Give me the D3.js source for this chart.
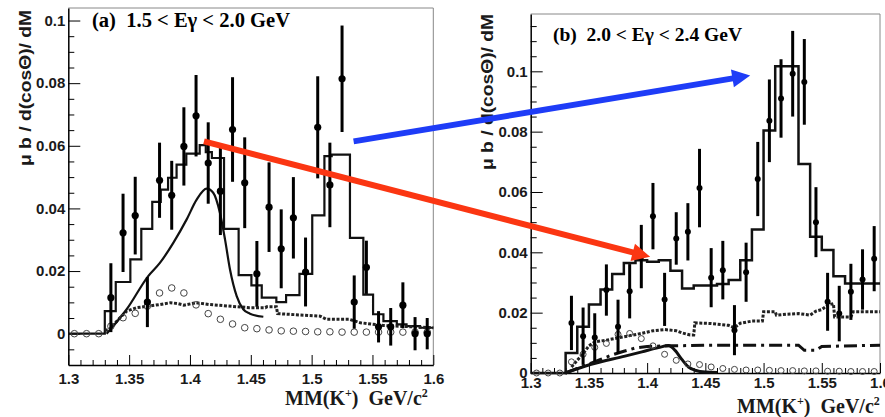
<!DOCTYPE html>
<meta charset="utf-8">
<style>
body { margin: 0; background: #fff; }
svg { display: block; }
.tick text { font-family: "Liberation Sans", Arial, sans-serif; font-weight: bold; font-size: 15px; fill: #1a1a1a; }
</style>
<body>
<script src="https://d3js.org/d3.v7.min.js"></script>
<script>

// bin centres of the missing-mass histograms (GeV/c^2)
var massBins = [1.305, 1.315, 1.325, 1.335, 1.345, 1.355, 1.365, 1.375, 1.385, 1.395,
                1.405, 1.415, 1.425, 1.435, 1.445, 1.455, 1.465, 1.475, 1.485, 1.495,
                1.505, 1.515, 1.525, 1.535, 1.545, 1.555, 1.565, 1.575, 1.585, 1.595];
var pointMass = [1.335, 1.345, 1.355, 1.365, 1.375, 1.385, 1.395, 1.405, 1.415, 1.425,
                 1.435, 1.445, 1.455, 1.465, 1.475, 1.485, 1.495, 1.505, 1.515, 1.525,
                 1.535, 1.545, 1.555, 1.565, 1.575, 1.585, 1.595];

// ticks
var xMajorTicks = [1.3, 1.35, 1.4, 1.45, 1.5, 1.55, 1.6];
var xMinorTicks = [1.31, 1.32, 1.33, 1.34, 1.36, 1.37, 1.38, 1.39, 1.41, 1.42, 1.43, 1.44,
                   1.46, 1.47, 1.48, 1.49, 1.51, 1.52, 1.53, 1.54, 1.56, 1.57, 1.58, 1.59];
var yMajorTicks = [0, 0.02, 0.04, 0.06, 0.08, 0.1];
var yMinorTicksA = [-0.005, 0.005, 0.01, 0.015, 0.025, 0.03, 0.035, 0.045, 0.05, 0.055,
                    0.065, 0.07, 0.075, 0.085, 0.09, 0.095];
var yMinorTicksB = [0.005, 0.01, 0.015, 0.025, 0.03, 0.035, 0.045, 0.05, 0.055,
                    0.065, 0.07, 0.075, 0.085, 0.09, 0.095, 0.105, 0.11, 0.115];

// ---- panel (a) 1.5 < Eg < 2.0 GeV ----
var dataA = [0.0115, 0.0322, 0.0377, 0.0101, 0.049, 0.0442, 0.0598, 0.0696, 0.0545, 0.0455,
             0.0652, 0.0482, 0.0191, 0.0404, 0.0271, 0.037, 0.0197, 0.0659, 0.0475, 0.0814,
             0.0101, 0.0212, 0.0022, 0.0022, 0.0091, 0.0, 0.0];
var errA = [0.011, 0.0125, 0.0124, 0.008, 0.012, 0.011, 0.0125, 0.013, 0.013, 0.014,
            0.0167, 0.0145, 0.0105, 0.0143, 0.0126, 0.013, 0.011, 0.0163, 0.0135, 0.017,
            0.0085, 0.0085, 0.005, 0.006, 0.0073, 0.0053, 0.005];
var openA = [0, 0, 0, 0.0024, 0.0051, 0.0065, 0.0088, 0.013, 0.0146, 0.013,
             0.0092, 0.0064, 0.0046, 0.0031, 0.0019, 0.0016, 0.0012, 0.0009, 0.0008, 0.0007,
             0.0006, 0.0006, 0.0005, 0.0005, 0.0005, 0.0005, 0.0005, 0.0005, 0.0005, 0.0005];
var histEdgesA = [1.300, 1.330, 1.339, 1.351, 1.360, 1.369, 1.376, 1.382, 1.389, 1.397, 1.408,
                  1.413, 1.418, 1.428, 1.440, 1.4505, 1.459, 1.471, 1.479, 1.490, 1.5005,
                  1.5105, 1.5165, 1.5315, 1.5425, 1.5505, 1.559, 1.570, 1.578, 1.589, 1.600];
var histValsA = [0, 0.0072, 0.0165, 0.0237, 0.0335, 0.0421, 0.046, 0.0498, 0.054, 0.0575,
                 0.0602, 0.058, 0.0561, 0.0335, 0.0187, 0.0154, 0.0115, 0.0101, 0.0123, 0.0191,
                 0.0378, 0.0567, 0.0572, 0.0306, 0.0125, 0.0062, 0.004, 0.003, 0.0024, 0.0019];
var curveMassA = [1.3315, 1.348, 1.3657, 1.3753, 1.3863, 1.3973, 1.4055, 1.4137, 1.4191,
                  1.4246, 1.4288, 1.4329, 1.4384, 1.4438, 1.4493, 1.4603];
var curveValA = [0, 0.0078, 0.0184, 0.0226, 0.029, 0.0365, 0.0428, 0.0463, 0.045,
                 0.0386, 0.0301, 0.0205, 0.012, 0.0078, 0.0064, 0.0054];
var dotMassA = [1.330, 1.334, 1.341, 1.348, 1.356, 1.366, 1.375, 1.384, 1.390, 1.395, 1.405,
                1.416, 1.449, 1.462, 1.463, 1.471, 1.472, 1.507, 1.512, 1.531, 1.540, 1.559, 1.600];
var dotValA = [0.001, 0.0014, 0.0045, 0.0072, 0.0083, 0.0088, 0.0093, 0.0099, 0.0096, 0.0091,
               0.0099, 0.0093, 0.0083, 0.0083, 0.0086, 0.0086, 0.0064, 0.0056, 0.0046, 0.0046,
               0.0035, 0.0026, 0.0019];

// ---- panel (b) 2.0 < Eg < 2.4 GeV ----
var dataB = [0.0166, 0.0122, 0.0118, 0.0275, 0.0153, 0.0271, 0.0386, 0.052, 0.0244, 0.0446,
             0.0468, 0.0613, 0.0316, 0.0341, 0.0142, 0.0334, 0.0643, 0.0836, 0.091, 0.0992,
             0.0965, 0.05, 0.0236, 0.0197, 0.0269, 0.031, 0.0379];
var errB = [0.009, 0.0095, 0.008, 0.0085, 0.009, 0.009, 0.0105, 0.011, 0.0088, 0.0087,
            0.0095, 0.013, 0.0098, 0.0097, 0.0083, 0.0098, 0.0123, 0.0137, 0.013, 0.0142,
            0.0142, 0.0116, 0.0096, 0.0092, 0.0093, 0.01, 0.0108];
var openB = [0, 0, 0, 0.0037, 0.0062, 0.0085, 0.0098, 0.0128, 0.0131, 0.0114,
             0.009, 0.0062, 0.0042, 0.003, 0.0028, 0.002, 0.0015, 0.0012, 0.001, 0.001,
             0.0009, 0.0008, 0.0008, 0.0007, 0.0007, 0.0006, 0.0006, 0.0005, 0.0005, 0.0005];
var histEdgesB = [1.30, 1.33, 1.34, 1.35, 1.36, 1.37, 1.38, 1.39, 1.40, 1.41, 1.42, 1.43, 1.44,
                  1.45, 1.46, 1.47, 1.48, 1.49, 1.50, 1.51, 1.52, 1.53, 1.54, 1.55, 1.56, 1.57,
                  1.58, 1.59, 1.60];
var histValsB = [0, 0.0066, 0.0153, 0.0227, 0.0277, 0.0328, 0.0365, 0.0374, 0.0369, 0.0374,
                 0.0339, 0.028, 0.029, 0.029, 0.0295, 0.0308, 0.0374, 0.0476, 0.0804, 0.1017,
                 0.1017, 0.0693, 0.0452, 0.0408, 0.0321, 0.0297, 0.0297, 0.0297];
var curveMassB = [1.3295, 1.352, 1.381, 1.3955, 1.4097, 1.4183, 1.424, 1.4298, 1.4355, 1.4412,
                  1.45, 1.46];
var curveValB = [0, 0.0029, 0.0056, 0.007, 0.0084, 0.0091, 0.0075, 0.0045, 0.002, 0.0009,
                 0.0003, 0.0002];
var dotMassB = [1.335, 1.340, 1.345, 1.350, 1.355, 1.365, 1.380, 1.395, 1.405, 1.415, 1.425,
                1.430, 1.437, 1.440, 1.441, 1.455, 1.470, 1.475, 1.480, 1.490, 1.499, 1.500,
                1.510, 1.511, 1.520, 1.530, 1.540, 1.545, 1.550, 1.555, 1.560, 1.561, 1.575,
                1.577, 1.600];
var dotValB = [0.002, 0.0042, 0.0064, 0.009, 0.0103, 0.0109, 0.012, 0.0131, 0.014, 0.0144, 0.014,
               0.0133, 0.0126, 0.0126, 0.0166, 0.0164, 0.0158, 0.015, 0.0165, 0.0172, 0.0172,
               0.0203, 0.0203, 0.0192, 0.0195, 0.0197, 0.0192, 0.0205, 0.021, 0.0225, 0.023,
               0.0186, 0.0186, 0.0203, 0.0203];
var dashMassB = [1.330, 1.340, 1.350, 1.360, 1.370, 1.380, 1.390, 1.400, 1.420, 1.450, 1.500,
                 1.530, 1.535, 1.545, 1.550, 1.600];
var dashValB = [0, 0.0015, 0.003, 0.0045, 0.006, 0.0072, 0.0083, 0.0088, 0.009, 0.0092, 0.0092,
                0.0092, 0.0075, 0.0075, 0.0088, 0.0092];

var svg = d3.select("body").append("svg")
    .attr("width", 885)
    .attr("height", 417);

svg.append("rect").attr("width", 885).attr("height", 417).attr("fill", "#fff");

var fmt = function(d) { return String(+d.toFixed(3)); };

function drawPanel(p) {
  var x = d3.scaleLinear().domain([1.3, 1.6]).range([p.left, p.right]);
  var y = d3.scaleLinear().domain(p.yDomain).range([p.bottom, p.top]);
  var g = svg.append("g");

  // top / right frame
  g.append("path")
    .attr("d", "M" + p.left + "," + p.top + "H" + p.right + "V" + p.bottom)
    .attr("fill", "none").attr("stroke", "#888").attr("stroke-width", 1);

  // x axis
  g.append("g").attr("transform", "translate(0," + p.bottom + ")")
    .call(d3.axisBottom(x).tickValues(xMinorTicks).tickSizeInner(-5).tickSizeOuter(0).tickFormat(""))
    .call(function(s) { s.select(".domain").remove(); });
  g.append("g").attr("transform", "translate(0," + p.bottom + ")")
    .call(d3.axisBottom(x).tickValues(xMajorTicks).tickSizeInner(-10).tickSizeOuter(0)
      .tickPadding(p.xPad).tickFormat(fmt))
    .call(function(s) { s.select(".domain").attr("stroke-width", 1.5); });

  // y axis
  g.append("g").attr("transform", "translate(" + p.left + ",0)")
    .call(d3.axisLeft(y).tickValues(p.yMinor).tickSizeInner(-6).tickSizeOuter(0).tickFormat(""))
    .call(function(s) { s.select(".domain").remove(); });
  g.append("g").attr("transform", "translate(" + p.left + ",0)")
    .call(d3.axisLeft(y).tickValues(yMajorTicks).tickSizeInner(-12).tickSizeOuter(0)
      .tickPadding(3).tickFormat(fmt))
    .call(function(s) { s.select(".domain").attr("stroke-width", 1.5); });

  var line = d3.line().x(function(d) { return x(d[0]); }).y(function(d) { return y(d[1]); });

  // histogram (model sum)
  var hist = p.histEdges.map(function(e, i) {
    return [e, p.histVals[Math.min(i, p.histVals.length - 1)]];
  });
  g.append("path").attr("d", line.curve(d3.curveStepAfter)(hist))
    .attr("fill", "none").attr("stroke", "#111").attr("stroke-width", p.histW);

  // dotted background
  g.append("path").attr("d", line.curve(d3.curveLinear)(d3.zip(p.dotMass, p.dotVal)))
    .attr("fill", "none").attr("stroke", "#222").attr("stroke-width", 3)
    .attr("stroke-dasharray", "3,1.6");

  // dash-dot component
  if (p.dashMass) {
    g.append("path").attr("d", line.curve(d3.curveLinear)(d3.zip(p.dashMass, p.dashVal)))
      .attr("fill", "none").attr("stroke", "#111").attr("stroke-width", 3)
      .attr("stroke-dasharray", "13,5,3,5");
  }

  // smooth solid curve
  g.append("path").attr("d", line.curve(d3.curveMonotoneX)(d3.zip(p.curveMass, p.curveVal)))
    .attr("fill", "none").attr("stroke", "#111").attr("stroke-width", p.curveW);

  // open circles
  g.append("g").selectAll("circle").data(d3.zip(massBins, p.open)).join("circle")
    .attr("cx", function(d) { return x(d[0]); })
    .attr("cy", function(d) { return y(d[1]); })
    .attr("r", p.openR)
    .attr("fill", "none").attr("stroke", "#444").attr("stroke-width", 1);

  // data with error bars
  var pts = d3.zip(pointMass, p.data, p.err);
  g.append("g").selectAll("line").data(pts).join("line")
    .attr("x1", function(d) { return x(d[0]); })
    .attr("x2", function(d) { return x(d[0]); })
    .attr("y1", function(d) { return y(d[1] - d[2]); })
    .attr("y2", function(d) { return y(d[1] + d[2]); })
    .attr("stroke", "#000").attr("stroke-width", 3);
  g.append("g").selectAll("circle").data(pts).join("circle")
    .attr("cx", function(d) { return x(d[0]); })
    .attr("cy", function(d) { return y(d[1]); })
    .attr("r", p.dotR).attr("fill", "#000");

  // panel label
  g.append("text")
    .attr("x", p.titleX).attr("y", p.titleY)
    .attr("textLength", p.titleLen).attr("lengthAdjust", "spacingAndGlyphs")
    .style("white-space", "pre")
    .attr("font-family", "'Liberation Serif', 'Times New Roman', serif")
    .attr("font-weight", "bold").attr("font-size", p.titleSize)
    .text(p.title);

  // x title
  var xt = g.append("text")
    .attr("x", p.xTitleX).attr("y", p.xTitleY)
    .style("white-space", "pre")
    .attr("font-family", "'Liberation Serif', 'Times New Roman', serif")
    .attr("font-weight", "bold").attr("font-size", 20).attr("fill", "#1a1a1a");
  xt.append("tspan").text("MM(K");
  xt.append("tspan").attr("font-size", 12).attr("dy", -8).text("+");
  xt.append("tspan").attr("dy", 8).text(")  GeV/c");
  xt.append("tspan").attr("font-size", 12).attr("dy", -8).text("2");

  // y title
  g.append("text")
    .attr("transform", "translate(" + p.yTitleX + "," + p.yTitleY + ") rotate(-90)")
    .attr("text-anchor", "middle")
    .attr("textLength", 156).attr("lengthAdjust", "spacingAndGlyphs")
    .attr("font-family", "'Liberation Sans', Arial, sans-serif")
    .attr("font-weight", "bold").attr("font-size", 17).attr("fill", "#1a1a1a")
    .text("\u03bc b / d(cos\u0398)/ dM");

  return { x: x, y: y };
}

var pa = drawPanel({
  left: 68.3, right: 433.3, top: 8, bottom: 365, yDomain: [-0.01, 0.104], yMinor: yMinorTicksA,
  xPad: 8, histW: 2.2, curveW: 2.2, openR: 3.3, dotR: 3.6,
  data: dataA, err: errA, open: openA, histEdges: histEdgesA, histVals: histValsA,
  curveMass: curveMassA, curveVal: curveValA, dotMass: dotMassA, dotVal: dotValA,
  title: "(a)  1.5 < E\u03b3 < 2.0 GeV", titleX: 92, titleY: 27, titleLen: 198, titleSize: 20,
  xTitleX: 285, xTitleY: 405, yTitleX: 31, yTitleY: 88
});

var pb = drawPanel({
  left: 530.7, right: 880, top: 14, bottom: 373, yDomain: [0, 0.119], yMinor: yMinorTicksB,
  xPad: 4, histW: 2.5, curveW: 3, openR: 3, dotR: 3,
  data: dataB, err: errB, open: openB, histEdges: histEdgesB, histVals: histValsB,
  curveMass: curveMassB, curveVal: curveValB, dotMass: dotMassB, dotVal: dotValB,
  dashMass: dashMassB, dashVal: dashValB,
  title: "(b)  2.0 < E\u03b3 < 2.4 GeV", titleX: 553, titleY: 41, titleLen: 189, titleSize: 19,
  xTitleX: 737, xTitleY: 413, yTitleX: 493, yTitleY: 92
});

// arrows linking the two panels (start in panel a, tip in panel b)
var arrows = [
  { from: [1.4115, 0.0614], to: [1.4026, 0.0385], color: "#fb3612" },
  { from: [1.5345, 0.0614], to: [1.4885, 0.0986], color: "#1e3cf7" }
];

arrows.forEach(function(a) {
  var x1 = pa.x(a.from[0]), y1 = pa.y(a.from[1]);
  var x2 = pb.x(a.to[0]), y2 = pb.y(a.to[1]);
  var len = Math.hypot(x2 - x1, y2 - y1);
  var ux = (x2 - x1) / len, uy = (y2 - y1) / len;
  var headL = 18, headW = 9;
  var bx = x2 - ux * headL, by = y2 - uy * headL;
  svg.append("line")
    .attr("x1", x1).attr("y1", y1).attr("x2", bx + ux * 2).attr("y2", by + uy * 2)
    .attr("stroke", a.color).attr("stroke-width", 6);
  svg.append("path")
    .attr("d", "M" + x2 + "," + y2 +
               "L" + (bx - uy * headW) + "," + (by + ux * headW) +
               "L" + (bx + uy * headW) + "," + (by - ux * headW) + "Z")
    .attr("fill", a.color);
});

</script>
</body>
